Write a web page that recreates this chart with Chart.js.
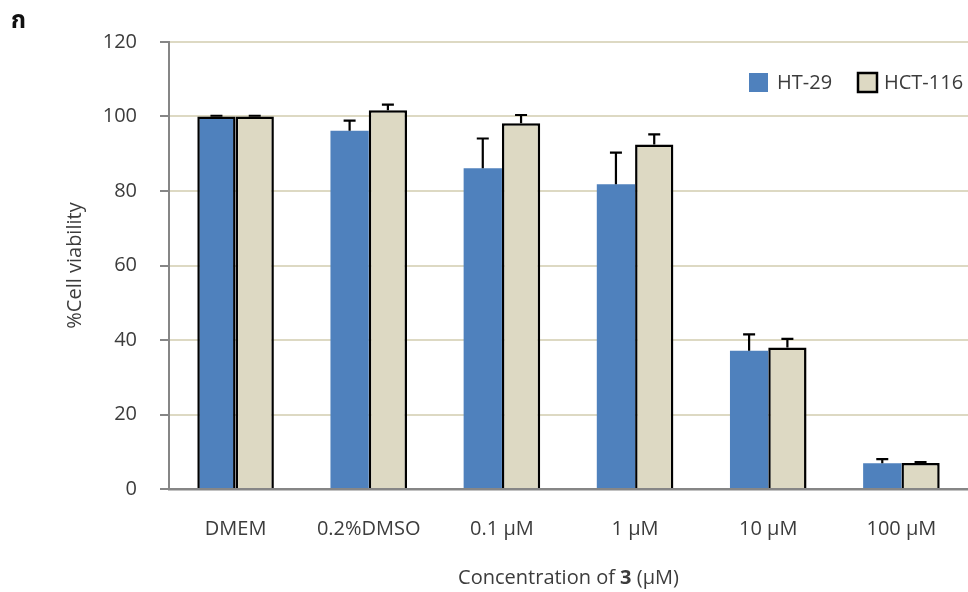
<!DOCTYPE html>
<html>
<head>
<meta charset="utf-8">
<script src="https://cdn.jsdelivr.net/npm/chart.js@4"></script>
<style>
  html, body { margin: 0; padding: 0; background: #fff; }
  #wrap { width: 968px; height: 592px; position: relative; }
</style>
</head>
<body>
<div id="wrap"><canvas id="c" width="968" height="592"></canvas></div>
<script>
// Cell viability after treatment with compound 3
const categories = ['DMEM', '0.2%DMSO', '0.1 µM', '1 µM', '10 µM', '100 µM'];
const seriesNames = ['HT-29', 'HCT-116'];
const ht29 = [100, 96.2, 86.1, 81.8, 37.1, 6.9];
const ht29Err = [0.2, 2.7, 8.0, 8.5, 4.4, 1.1];
const hct116 = [100, 101.7, 98.2, 92.5, 38.0, 7.0];
const hct116Err = [0.2, 1.5, 2.2, 2.7, 2.3, 0.2];
const yTicks = [0, 20, 40, 60, 80, 100, 120];

const FONT = "'Open Sans', 'Noto Sans', sans-serif";
const TEXT = '#3c3c3c';
const errors = [ht29Err, hct116Err];

// Upward-only error bars with caps
const errorBars = {
  id: 'errorBars',
  afterDatasetsDraw(chart) {
    const ctx = chart.ctx;
    const y = chart.scales.y;
    ctx.save();
    ctx.strokeStyle = '#000';
    ctx.lineWidth = 2.2;
    chart.data.datasets.forEach((ds, di) => {
      const meta = chart.getDatasetMeta(di);
      meta.data.forEach((bar, i) => {
        const v = ds.data[i];
        const e = errors[di][i];
        const y0 = y.getPixelForValue(v);
        const y1 = y.getPixelForValue(v + e);
        const x = bar.x;
        ctx.beginPath();
        ctx.moveTo(x, y0);
        ctx.lineTo(x, y1);
        ctx.moveTo(x - 6, y1);
        ctx.lineTo(x + 6, y1);
        ctx.stroke();
      });
    });
    ctx.restore();
  }
};

// Legend inside the plot, titles and panel letter
const decorations = {
  id: 'decorations',
  afterDraw(chart) {
    const ctx = chart.ctx;
    const area = chart.chartArea;
    ctx.save();
    ctx.fillStyle = TEXT;
    ctx.textBaseline = 'middle';

    // legend
    const ds = chart.data.datasets;
    const items = [{ x: 749, tx: 777 }, { x: 858, tx: 884 }];
    ds.forEach((d, i) => {
      const it = items[i];
      const top = 73;
      ctx.fillStyle = d.backgroundColor;
      ctx.fillRect(it.x, top, 19, 19);
      if (i === 1) {
        ctx.strokeStyle = '#000';
        ctx.lineWidth = 2.5;
        ctx.strokeRect(it.x, top, 19, 19);
      }
      ctx.fillStyle = TEXT;
      ctx.font = '20px ' + FONT;
      ctx.textAlign = 'left';
      ctx.fillText(d.label, it.tx, top + 10);
    });

    // y title
    ctx.save();
    ctx.translate(75, (area.top + area.bottom) / 2);
    ctx.rotate(-Math.PI / 2);
    ctx.textAlign = 'center';
    ctx.font = '20px ' + FONT;
    ctx.fillText('%Cell viability', 0, 0);
    ctx.restore();

    // x title with bold compound number
    const parts = [
      { t: 'Concentration of ', f: '20px ' + FONT },
      { t: '3', f: 'bold 20px ' + FONT },
      { t: ' (µM)', f: '20px ' + FONT }
    ];
    let total = 0;
    parts.forEach(p => { ctx.font = p.f; p.w = ctx.measureText(p.t).width; total += p.w; });
    let x = (area.left + area.right) / 2 - total / 2;
    ctx.textAlign = 'left';
    parts.forEach(p => { ctx.font = p.f; ctx.fillText(p.t, x, 578); x += p.w; });

    // panel letter
    ctx.font = "bold 24px 'Noto Sans Thai', 'Noto Sans', 'DejaVu Sans', sans-serif";
    ctx.textBaseline = 'alphabetic';
    ctx.fillStyle = '#111';
    ctx.fillText('ก', 11, 28);
    ctx.restore();
  }
};

new Chart(document.getElementById('c'), {
  type: 'bar',
  data: {
    labels: categories,
    datasets: [
      {
        label: seriesNames[0],
        data: ht29,
        backgroundColor: '#4F81BD',
        borderColor: '#000',
        borderWidth: [2.5, 0, 0, 0, 0, 0],
        categoryPercentage: 0.575,
        barPercentage: 1.0
      },
      {
        label: seriesNames[1],
        data: hct116,
        backgroundColor: '#DDD9C3',
        borderColor: '#000',
        borderWidth: 2.5,
        categoryPercentage: 0.575,
        barPercentage: 1.0
      }
    ]
  },
  options: {
    responsive: false,
    animation: false,
    devicePixelRatio: 1,
    layout: { padding: { top: 42, right: 0, left: 0, bottom: 0 } },
    plugins: { legend: { display: false }, tooltip: { enabled: false } },
    scales: {
      x: {
        offset: true,
        grid: { display: false, drawTicks: false },
        border: { display: true, color: '#868686', width: 2.5 },
        ticks: { font: { family: FONT, size: 20 }, color: TEXT, padding: 28 },
        afterFit(s) { s.height = 103; }
      },
      y: {
        min: 0,
        max: 120,
        afterBuildTicks(s) { s.ticks = yTicks.map(v => ({ value: v })); },
        grid: { color: '#DDD9C3', lineWidth: 2, tickColor: '#868686', tickLength: 9 },
        border: { color: '#868686', width: 2 },
        ticks: { font: { family: FONT, size: 20 }, color: TEXT, padding: 23 },
        afterFit(s) { s.width = 169; }
      }
    }
  },
  plugins: [errorBars, decorations]
});
</script>
</body>
</html>
